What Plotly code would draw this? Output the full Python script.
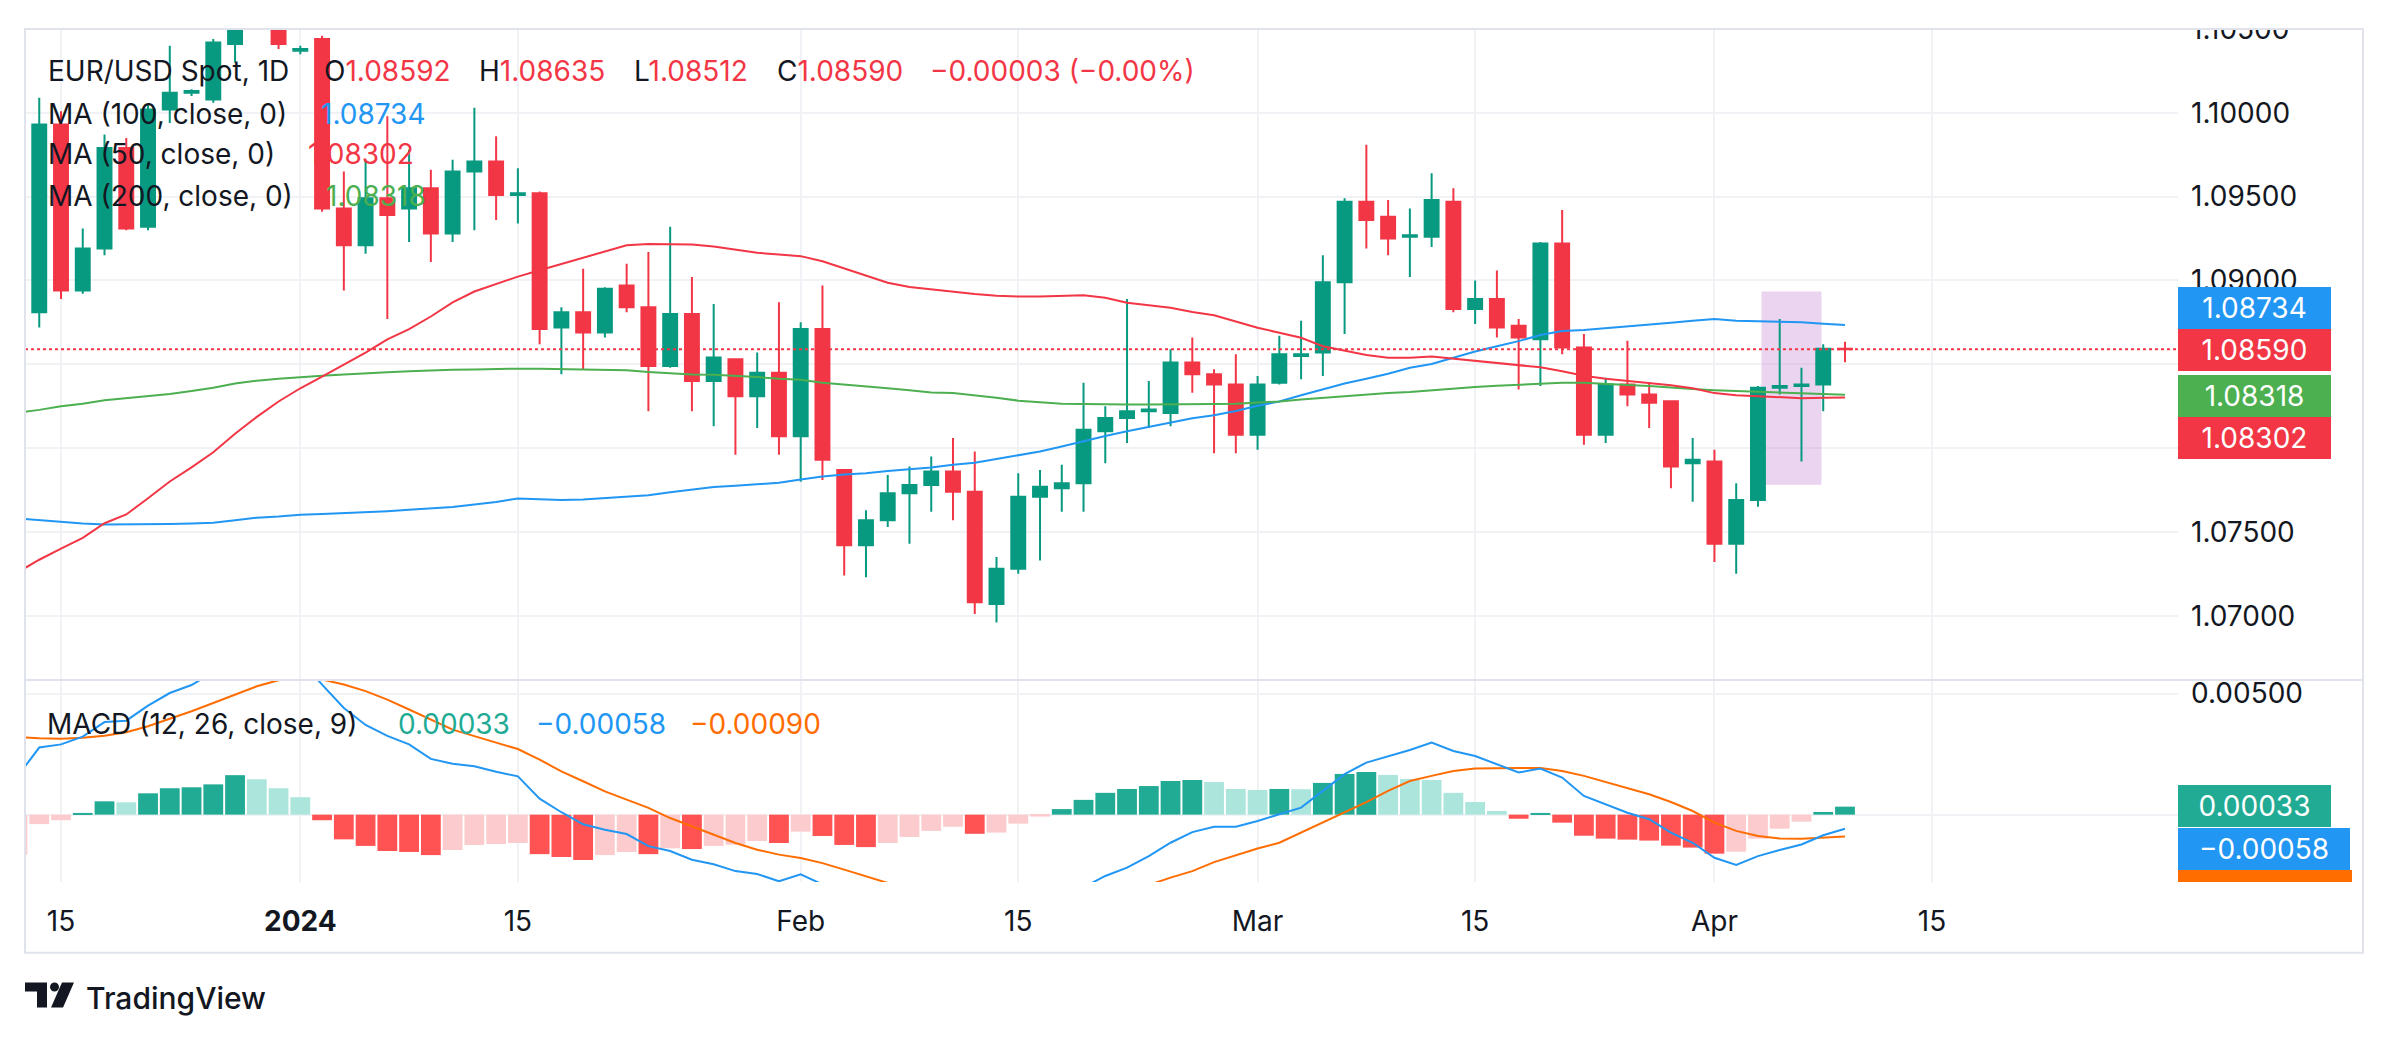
import pandas as pd
import plotly.graph_objects as go
from plotly.subplots import make_subplots

# EUR/USD daily bars (weekdays only), 13 Dec 2023 - 9 Apr 2024
dates = pd.bdate_range("2023-12-13", "2024-04-09")

open_ = [
    1.0798, 1.0881, 1.0993, 1.0894, 1.0919, 1.0979, 1.0932, 1.1002, 1.1012, 1.1008, 1.1041, 1.1105, 1.1062,
    1.1037, 1.1044, 1.0943, 1.0921, 1.0949, 1.0943, 1.0955, 1.0928, 1.0965, 1.0971,
    1.0951, 1.0952, 1.0872, 1.0881, 1.0869, 1.0897, 1.0884, 1.0849, 1.0880, 1.0840, 1.0853, 1.0831, 1.0845,
    1.0807, 1.0871, 1.0787, 1.0742, 1.0757, 1.0773, 1.0778, 1.0786, 1.0774, 1.0707, 1.0728, 1.0771, 1.0776,
    1.0779, 1.0810, 1.0818, 1.0822, 1.0821, 1.0851, 1.0844, 1.0838,
    1.0808, 1.0839, 1.0855, 1.0857, 1.0899, 1.0947, 1.0938, 1.0926, 1.0926, 1.0947, 1.0883, 1.0889, 1.0873,
    1.0865, 1.0922, 1.0860, 1.0808, 1.0838, 1.0832, 1.0828, 1.0791,
    1.0792, 1.0743, 1.0769, 1.0836, 1.0837, 1.0838, 1.08592,
]
high = [
    1.0890, 1.1009, 1.1001, 1.0931, 1.0987, 1.0985, 1.1005, 1.1040, 1.1014, 1.1044, 1.1140, 1.1139, 1.1080,
    1.1040, 1.1046, 1.0965, 1.0972, 1.0998, 1.0978, 1.0966, 1.0972, 1.1003, 1.0986,
    1.0967, 1.0953, 1.0884, 1.0907, 1.0896, 1.0910, 1.0917, 1.0932, 1.0902, 1.0886, 1.0853, 1.0857, 1.0887,
    1.0875, 1.0897, 1.0787, 1.0763, 1.0784, 1.0789, 1.0795, 1.0806, 1.0798, 1.0735, 1.0785, 1.0787, 1.0790,
    1.0839, 1.0825, 1.0889, 1.0840, 1.0859, 1.0866, 1.0847, 1.0856,
    1.0843, 1.0867, 1.0876, 1.0915, 1.0949, 1.0981, 1.0948, 1.0943, 1.0964, 1.0955, 1.0900, 1.0906, 1.0877,
    1.0923, 1.0942, 1.0868, 1.0842, 1.0864, 1.0839, 1.0828, 1.0806,
    1.0799, 1.0779, 1.0837, 1.0877, 1.0848, 1.0862, 1.08635,
]
low = [
    1.0773, 1.0872, 1.0889, 1.0892, 1.0915, 1.0930, 1.0930, 1.0994, 1.1010, 1.1006, 1.1030, 1.1055, 1.1038,
    1.1035, 1.0941, 1.0894, 1.0916, 1.0877, 1.0923, 1.0911, 1.0923, 1.0930, 1.0936,
    1.0934, 1.0862, 1.0844, 1.0847, 1.0866, 1.0881, 1.0822, 1.0848, 1.0822, 1.0813, 1.0796, 1.0812, 1.0796,
    1.0780, 1.0781, 1.0724, 1.0723, 1.0753, 1.0743, 1.0762, 1.0757, 1.0701, 1.0696, 1.0725, 1.0733, 1.0762,
    1.0762, 1.0791, 1.0803, 1.0812, 1.0813, 1.0833, 1.0797, 1.0797,
    1.0799, 1.0838, 1.0841, 1.0843, 1.0868, 1.0919, 1.0915, 1.0902, 1.0920, 1.0881, 1.0874, 1.0866, 1.0835,
    1.0837, 1.0856, 1.0802, 1.0803, 1.0825, 1.0812, 1.0776, 1.0768,
    1.0732, 1.0725, 1.0765, 1.0832, 1.0792, 1.0822, 1.08512,
]
close = [
    1.0881, 1.0993, 1.0894, 1.0919, 1.0979, 1.0931, 1.1002, 1.1012, 1.1013, 1.1042, 1.1105, 1.1062, 1.1041,
    1.1038, 1.0943, 1.0921, 1.0949, 1.0939, 1.0955, 1.0928, 1.0965, 1.0971, 1.0951,
    1.0952, 1.0871, 1.0881, 1.0869, 1.0895, 1.0884, 1.0849, 1.0880, 1.0840, 1.0854, 1.0831, 1.0845, 1.0807,
    1.0871, 1.0793, 1.0742, 1.0757, 1.0773, 1.0778, 1.0786, 1.0774, 1.0708, 1.0728, 1.0771, 1.0777, 1.0779,
    1.0811, 1.0818, 1.0822, 1.0823, 1.0851, 1.0844, 1.0838, 1.0808,
    1.0838, 1.0856, 1.0856, 1.0899, 1.0947, 1.0936, 1.0925, 1.0927, 1.0948, 1.0883, 1.0889, 1.0872, 1.0866,
    1.0922, 1.0860, 1.0808, 1.0838, 1.0832, 1.0827, 1.0789, 1.0793,
    1.0743, 1.0769, 1.0836, 1.0837, 1.0838, 1.08593, 1.08590,
]

ma50 = [
    1.07259, 1.07334, 1.07401, 1.07465, 1.07552, 1.07604, 1.07701, 1.07801, 1.07885, 1.07975, 1.08086, 1.08186, 1.08278,
    1.08357, 1.08427, 1.08499, 1.08569, 1.08648, 1.08710, 1.08785, 1.08869, 1.08934, 1.08979,
    1.09023, 1.09061, 1.09098, 1.09135, 1.09170, 1.09210, 1.09217, 1.09217, 1.09215, 1.09202, 1.09182, 1.09165, 1.09155,
    1.09145, 1.09115, 1.09073, 1.09028, 1.08986, 1.08961, 1.08946, 1.08931, 1.08919, 1.08909, 1.08904, 1.08904, 1.08907,
    1.08912, 1.08897, 1.08867, 1.08852, 1.08837, 1.08812, 1.08792, 1.08755,
    1.08718, 1.08688, 1.08658, 1.08608, 1.08581, 1.08556, 1.08539, 1.08539, 1.08546, 1.08534, 1.08519, 1.08506, 1.08494,
    1.08482, 1.08459, 1.08432, 1.08414, 1.08402, 1.08390, 1.08375, 1.08357,
    1.08328, 1.08315, 1.08308, 1.08303, 1.08298, 1.08300, 1.08302,
]
ma100 = [
    1.07580, 1.07570, 1.07557, 1.07550, 1.07545, 1.07545, 1.07545, 1.07547, 1.07550, 1.07555, 1.07570, 1.07585, 1.07592,
    1.07602, 1.07607, 1.07612, 1.07617, 1.07624, 1.07632, 1.07639, 1.07649, 1.07664, 1.07679,
    1.07699, 1.07696, 1.07691, 1.07694, 1.07701, 1.07709, 1.07719, 1.07736, 1.07751, 1.07768, 1.07776, 1.07783, 1.07793,
    1.07813, 1.07831, 1.07843, 1.07850, 1.07863, 1.07873, 1.07885, 1.07900, 1.07913, 1.07935, 1.07957, 1.07980, 1.08009,
    1.08042, 1.08072, 1.08101, 1.08126, 1.08154, 1.08178, 1.08196, 1.08221,
    1.08253, 1.08278, 1.08315, 1.08352, 1.08385, 1.08414, 1.08444, 1.08479, 1.08502, 1.08539, 1.08576, 1.08608, 1.08638,
    1.08675, 1.08698, 1.08705, 1.08715, 1.08728, 1.08738, 1.08748, 1.08760,
    1.08770, 1.08760, 1.08757, 1.08757, 1.08750, 1.08742, 1.08734,
]
ma200 = [
    1.08211, 1.08228, 1.08250, 1.08265, 1.08285, 1.08298, 1.08308, 1.08323, 1.08340, 1.08360, 1.08385, 1.08402, 1.08414,
    1.08424, 1.08432, 1.08439, 1.08444, 1.08452, 1.08459, 1.08464, 1.08467, 1.08469, 1.08473,
    1.08474, 1.08474, 1.08472, 1.08472, 1.08469, 1.08464, 1.08454, 1.08447, 1.08439, 1.08437, 1.08432, 1.08424, 1.08414,
    1.08407, 1.08390, 1.08380, 1.08370, 1.08357, 1.08345, 1.08332, 1.08328, 1.08315, 1.08300, 1.08283, 1.08275, 1.08265,
    1.08263, 1.08260, 1.08260, 1.08260, 1.08260, 1.08263, 1.08263, 1.08265,
    1.08270, 1.08278, 1.08290, 1.08300, 1.08310, 1.08318, 1.08328, 1.08334, 1.08345, 1.08355, 1.08365, 1.08372, 1.08377,
    1.08385, 1.08390, 1.08390, 1.08385, 1.08377, 1.08370, 1.08360, 1.08352,
    1.08345, 1.08340, 1.08335, 1.08330, 1.08325, 1.08323, 1.08318,
]

macd_line = [
    0.00158, 0.00277, 0.00290, 0.00322, 0.00382, 0.00388, 0.00450, 0.00502, 0.00535, 0.00588, 0.00660, 0.00676, 0.00664,
    0.00637, 0.00537, 0.00440, 0.00370, 0.00325, 0.00290, 0.00230, 0.00210, 0.00200, 0.00177,
    0.00158, 0.00066, 0.00010, -0.00040, -0.00062, -0.00080, -0.00130, -0.00150, -0.00186, -0.00205, -0.00233, -0.00245, -0.00275,
    -0.00246, -0.00288, -0.00350, -0.00390, -0.00400, -0.00400, -0.00390, -0.00390, -0.00430, -0.00450, -0.00420, -0.00390, -0.00360,
    -0.00300, -0.00253, -0.00219, -0.00171, -0.00116, -0.00072, -0.00050, -0.00050,
    -0.00026, 0.00001, 0.00029, 0.00098, 0.00167, 0.00215, 0.00242, 0.00267, 0.00298, 0.00263, 0.00242, 0.00208, 0.00174,
    0.00190, 0.00153, 0.00077, 0.00043, 0.00008, -0.00019, -0.00074, -0.00116,
    -0.00178, -0.00208, -0.00171, -0.00146, -0.00123, -0.00085, -0.00058,
]
signal_line = [
    0.00321, 0.00315, 0.00313, 0.00317, 0.00326, 0.00340, 0.00365, 0.00395, 0.00427, 0.00461, 0.00496, 0.00530, 0.00555,
    0.00565, 0.00558, 0.00537, 0.00510, 0.00475, 0.00434, 0.00393, 0.00351, 0.00324, 0.00296,
    0.00271, 0.00227, 0.00179, 0.00138, 0.00096, 0.00062, 0.00028, -0.00014, -0.00048, -0.00083, -0.00117, -0.00145, -0.00165,
    -0.00179, -0.00200, -0.00227, -0.00255, -0.00282, -0.00300, -0.00320, -0.00340, -0.00350, -0.00370, -0.00380, -0.00380, -0.00380,
    -0.00360, -0.00340, -0.00310, -0.00290, -0.00260, -0.00233, -0.00196, -0.00167,
    -0.00140, -0.00116, -0.00074, -0.00033, 0.00008, 0.00052, 0.00098, 0.00139, 0.00160, 0.00180, 0.00190, 0.00193, 0.00193,
    0.00193, 0.00180, 0.00160, 0.00135, 0.00107, 0.00084, 0.00052, 0.00015,
    -0.00033, -0.00067, -0.00088, -0.00098, -0.00099, -0.00096, -0.00090,
]
hist = [
    -0.00165, -0.00039, -0.00023, 0.00007, 0.00055, 0.00051, 0.00088, 0.00109, 0.00113, 0.00125, 0.00163, 0.00146, 0.00109,
    0.00072, -0.00023, -0.00102, -0.00129, -0.00150, -0.00154, -0.00167, -0.00146, -0.00125, -0.00121,
    -0.00117, -0.00163, -0.00175, -0.00187, -0.00167, -0.00154, -0.00163, -0.00139, -0.00142, -0.00129, -0.00124, -0.00109, -0.00117,
    -0.00070, -0.00088, -0.00125, -0.00134, -0.00117, -0.00092, -0.00067, -0.00050, -0.00079, -0.00074, -0.00037, -0.00008, 0.00023,
    0.00061, 0.00090, 0.00106, 0.00118, 0.00139, 0.00143, 0.00135, 0.00106,
    0.00102, 0.00106, 0.00105, 0.00131, 0.00168, 0.00176, 0.00164, 0.00147, 0.00143, 0.00090, 0.00052, 0.00015, -0.00017,
    0.00004, -0.00033, -0.00087, -0.00099, -0.00103, -0.00107, -0.00128, -0.00136,
    -0.00161, -0.00153, -0.00099, -0.00058, -0.00029, 0.00011, 0.00033,
]

tick_dates = ["2023-12-15", "2024-01-01", "2024-01-15", "2024-02-01", "2024-02-15",
              "2024-03-01", "2024-03-15", "2024-04-01", "2024-04-15"]
tick_text = ["15", "<b>2024</b>", "15", "Feb", "15", "Mar", "15", "Apr", "15"]
price_ticks = [1.070, 1.075, 1.080, 1.085, 1.090, 1.095, 1.100, 1.105]
macd_ticks = [0.0, 0.005]
# scale labels that sit underneath the value tags on the right
covered_ticks = [1.080, 1.085, 0.0]

# colours
UP, DOWN = "#089981", "#F23645"
C_MA50, C_MA100, C_MA200 = "#F23645", "#2196F3", "#4CAF50"
C_MACD, C_SIG = "#2196F3", "#FF6D00"
TXT, GRID, BORDER = "#131722", "#F0F2F6", "#E0E3EB"
FONT = "Inter, Roboto, sans-serif"

# pixel frame of the plotting area inside the 2388x1041 page
L_PX, R_PX, T_PX, B_PX = 25, 2178, 25, 882
SPLIT_PX = 679


def fx(px):
    return (px - L_PX) / (R_PX - L_PX)


def fy(py):
    return (B_PX - py) / (B_PX - T_PX)


def fmt(v):
    return f"{v:.5f}".replace("-", "\u2212")


def scale_labels(ticks):
    return ["" if any(abs(t - c) < 1e-9 for c in covered_ticks) else fmt(t) for t in ticks]


# candles sit in the middle of each trading day so weekend breaks don't cut them
x = dates + pd.Timedelta(hours=12)
tickvals = [pd.Timestamp(d) + pd.Timedelta(hours=12) for d in tick_dates]

hist_colors = []
prev = None
for h in hist:
    if h >= 0:
        hist_colors.append("#22AB94" if prev is None or h > prev else "#ACE5DC")
    else:
        hist_colors.append("#FCCBCD" if prev is None or h > prev else "#FF5252")
    prev = h

fig = make_subplots(rows=2, cols=1, shared_xaxes=True, vertical_spacing=0)

fig.add_trace(go.Scatter(x=x, y=ma100, mode="lines", line=dict(color=C_MA100, width=2)), row=1, col=1)
fig.add_trace(go.Scatter(x=x, y=ma200, mode="lines", line=dict(color=C_MA200, width=2)), row=1, col=1)
fig.add_trace(go.Scatter(x=x, y=ma50, mode="lines", line=dict(color=C_MA50, width=2)), row=1, col=1)
fig.add_trace(go.Candlestick(
    x=x, open=open_, high=high, low=low, close=close, whiskerwidth=0,
    increasing=dict(line=dict(color=UP, width=2), fillcolor=UP),
    decreasing=dict(line=dict(color=DOWN, width=2), fillcolor=DOWN),
), row=1, col=1)

fig.add_trace(go.Bar(x=x, y=hist, marker=dict(color=hist_colors, line=dict(width=0))), row=2, col=1)
fig.add_trace(go.Scatter(x=x, y=signal_line, mode="lines", line=dict(color=C_SIG, width=2)), row=2, col=1)
fig.add_trace(go.Scatter(x=x, y=macd_line, mode="lines", line=dict(color=C_MACD, width=2)), row=2, col=1)

axis_font = dict(family=FONT, size=28, color=TXT)
fig.update_xaxes(
    range=["2023-12-13 20:17", "2024-04-30 19:22"],
    rangebreaks=[dict(bounds=["sat", "mon"])],
    rangeslider_visible=False,
    tickvals=tickvals, ticktext=tick_text,
    showgrid=True, gridcolor=GRID, gridwidth=2,
    showline=False, zeroline=False, ticks="",
    tickfont=axis_font,
)
fig.update_xaxes(showticklabels=False, row=1, col=1)
fig.update_xaxes(showticklabels=True, ticklabelstandoff=20, row=2, col=1)

fig.update_yaxes(
    side="right", showgrid=True, gridcolor=GRID, gridwidth=2, zeroline=False,
    showline=False, ticks="", tickfont=axis_font, ticklabelstandoff=12,
)
fig.update_yaxes(range=[1.06617, 1.105], tickvals=price_ticks, ticktext=scale_labels(price_ticks), row=1, col=1)
fig.update_yaxes(range=[-0.00278, 0.00556], tickvals=macd_ticks, ticktext=scale_labels(macd_ticks), row=2, col=1)

shapes = [
    # last price
    dict(type="line", xref="paper", x0=0, x1=1, yref="y", y0=close[-1], y1=close[-1],
         line=dict(color=DOWN, width=2, dash="dot")),
    # highlighted consolidation box
    dict(type="rect", xref="x", yref="y", x0="2024-04-03 15:52", x1="2024-04-08 10:04",
         y0=1.07781, y1=1.08934, fillcolor="rgba(206,147,216,0.4)", line=dict(width=0), layer="between"),
    # hide the upper half of the top price label
    dict(type="rect", xref="paper", yref="paper", x0=fx(R_PX), x1=fx(2362), y0=fy(T_PX - 1), y1=fy(0),
         fillcolor="white", line=dict(width=0), layer="above"),
    # clipped signal value tag at the bottom of the MACD scale
    dict(type="rect", xref="paper", yref="paper", x0=fx(R_PX), x1=fx(2352), y0=fy(B_PX), y1=fy(870),
         fillcolor=C_SIG, line=dict(width=0), layer="above"),
    # frame and pane separator
    dict(type="rect", xref="paper", yref="paper", x0=0, x1=fx(2363), y0=fy(953), y1=1,
         line=dict(color=BORDER, width=2), layer="above"),
    dict(type="line", xref="paper", yref="paper", x0=0, x1=fx(2363), y0=fy(SPLIT_PX), y1=fy(SPLIT_PX),
         line=dict(color=BORDER, width=2), layer="above"),
]


# TradingView mark
def path(points):
    return "M " + " L ".join(f"{fx(a):.5f},{fy(b):.5f}" for a, b in points) + " Z"


shapes += [
    dict(type="path", xref="paper", yref="paper",
         path=path([(25, 983), (47, 983), (47, 1008), (37, 1008), (37, 992), (25, 992)]),
         fillcolor=TXT, line=dict(width=0)),
    dict(type="circle", xref="paper", yref="paper", x0=fx(50), x1=fx(59), y0=fy(992), y1=fy(983),
         fillcolor=TXT, line=dict(width=0)),
    dict(type="path", xref="paper", yref="paper",
         path=path([(62, 983), (74, 983), (63, 1008), (51, 1008)]),
         fillcolor=TXT, line=dict(width=0)),
]

annotations = []


def text_at(px, py, text, size=28, color=TXT, weight=None):
    font = dict(family=FONT, size=size, color=color)
    if weight:
        font["weight"] = weight
    annotations.append(dict(xref="paper", yref="paper", x=fx(px), y=fy(py), xanchor="left",
                            yanchor="middle", text=text, showarrow=False, font=font))


def tag(py, text, color, width):
    annotations.append(dict(xref="paper", yref="paper", x=fx(R_PX), y=fy(py), xanchor="left",
                            yanchor="middle", text=text, showarrow=False, bgcolor=color,
                            width=width, height=42, align="center", borderpad=0, borderwidth=0,
                            font=dict(family=FONT, size=28, color="white")))


def red(s):
    return f"<span style='color:{DOWN}'>{s}</span>"


chg = close[-1] - close[-2]
pct = chg / close[-2] * 100
text_at(46, 67, "EUR/USD Spot, 1D")
text_at(322, 67, "O" + red(fmt(open_[-1])))
text_at(477, 67, "H" + red(fmt(high[-1])))
text_at(632, 67, "L" + red(fmt(low[-1])))
text_at(775, 67, "C" + red(fmt(close[-1])))
text_at(928, 67, red(fmt(chg) + " (" + f"{pct:.2f}".replace("-", "\u2212") + "%)"))
text_at(46, 110, "MA (100, close, 0)")
text_at(319, 110, fmt(ma100[-1]), color=C_MA100)
text_at(46, 151, "MA (50, close, 0)")
text_at(306, 151, fmt(ma50[-1]), color=C_MA50)
text_at(46, 193, "MA (200, close, 0)")
text_at(324, 193, fmt(ma200[-1]), color=C_MA200)

text_at(45, 723, "MACD (12, 26, close, 9)")
text_at(396, 723, fmt(hist[-1]), color="#22AB94")
text_at(534, 723, fmt(macd_line[-1]), color=C_MACD)
text_at(688, 723, fmt(signal_line[-1]), color=C_SIG)

text_at(84, 999, "TradingView", size=30, weight=500)

last_col = DOWN if close[-1] < open_[-1] else UP
tag(305, fmt(ma100[-1]), C_MA100, 153)
tag(347.5, fmt(close[-1]), last_col, 153)
tag(394, fmt(ma200[-1]), C_MA200, 153)
tag(436, fmt(ma50[-1]), C_MA50, 153)
tag(806, fmt(hist[-1]), "#22AB94", 153)
tag(848.5, fmt(macd_line[-1]), C_MACD, 172)

fig.update_layout(
    width=2388, height=1041,
    margin=dict(l=L_PX, r=2388 - R_PX, t=T_PX, b=1041 - B_PX),
    paper_bgcolor="white", plot_bgcolor="white",
    showlegend=False, hovermode=False,
    bargap=0.09, boxgap=0.36, boxgroupgap=0,
    yaxis=dict(domain=[fy(SPLIT_PX), 1]),
    yaxis2=dict(domain=[0, fy(SPLIT_PX)]),
    shapes=shapes, annotations=annotations,
    font=dict(family=FONT, color=TXT),
)

fig.write_html("out.html", config={"displayModeBar": False},
               post_script="document.body.style.margin='0';")
